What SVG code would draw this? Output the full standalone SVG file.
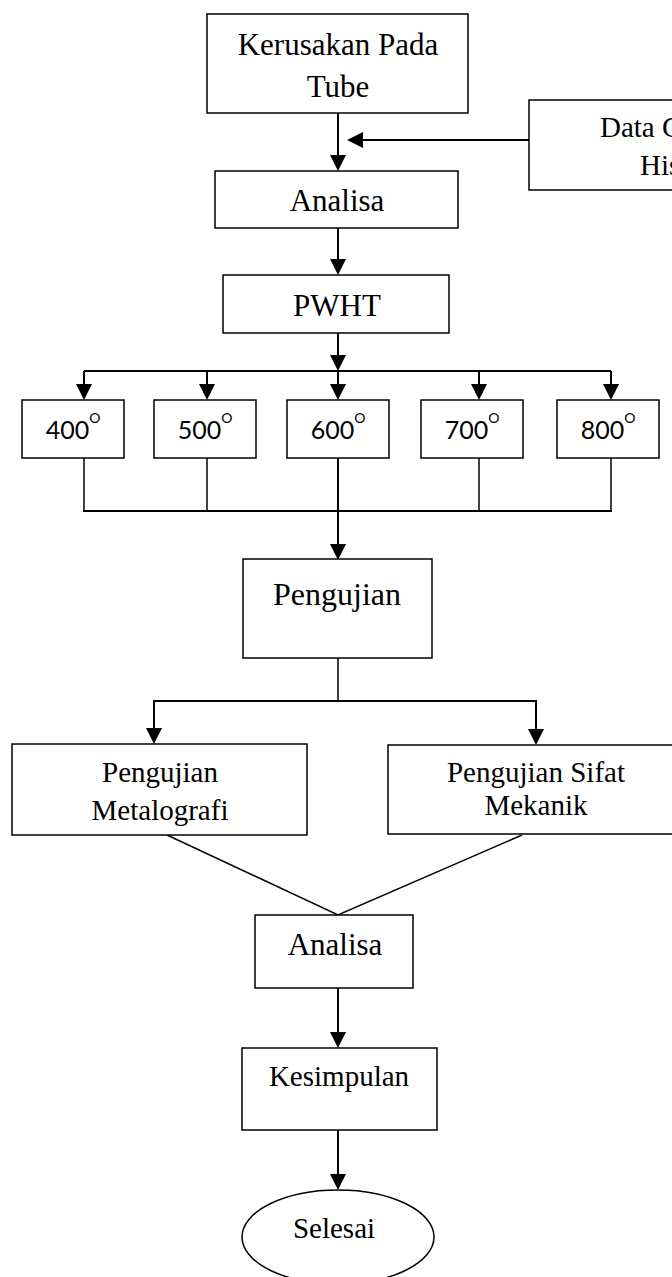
<svg xmlns="http://www.w3.org/2000/svg" width="672" height="1277" viewBox="0 0 672 1277">
<style>
.box{fill:#fff;stroke:#000;stroke-width:1.5}
.t{font-family:"Liberation Serif","Times New Roman",serif;fill:#000;text-anchor:middle}
.st{text-anchor:start}
.s{font-family:Lato,"Open Sans",sans-serif;fill:#000;text-anchor:middle;font-size:25px}
.thick{stroke:#000;stroke-width:2;fill:none}
.thin{stroke:#000;stroke-width:1.5;fill:none}
</style>
<defs>
<marker id="ah" markerUnits="userSpaceOnUse" markerWidth="18" markerHeight="18" refX="12" refY="8" orient="auto">
<path d="M0,0 L16,8 L0,16 z" fill="#000"/>
</marker>
</defs>
<rect width="672" height="1277" fill="#fff"/>
<g id="connectors">
<line class="thick" x1="338" y1="113" x2="338" y2="167" marker-end="url(#ah)"/>
<line class="thick" x1="529" y1="140" x2="351" y2="140" marker-end="url(#ah)"/>
<line class="thick" x1="338" y1="228" x2="338" y2="271" marker-end="url(#ah)"/>
<line class="thick" x1="338" y1="333" x2="338" y2="367" marker-end="url(#ah)"/>
<line class="thick" x1="84" y1="371" x2="611" y2="371"/>
<line class="thick" x1="84" y1="371" x2="84" y2="396" marker-end="url(#ah)"/>
<line class="thick" x1="207" y1="371" x2="207" y2="396" marker-end="url(#ah)"/>
<line class="thick" x1="338" y1="371" x2="338" y2="396" marker-end="url(#ah)"/>
<line class="thick" x1="479" y1="371" x2="479" y2="396" marker-end="url(#ah)"/>
<line class="thick" x1="611" y1="371" x2="611" y2="396" marker-end="url(#ah)"/>
<line class="thin" x1="84" y1="458" x2="84" y2="511"/>
<line class="thin" x1="207" y1="458" x2="207" y2="511"/>
<line class="thick" x1="338" y1="458" x2="338" y2="511"/>
<line class="thin" x1="479" y1="455" x2="479" y2="511"/>
<line class="thin" x1="611" y1="458" x2="611" y2="511"/>
<line class="thick" x1="83" y1="511" x2="612" y2="511"/>
<line class="thick" x1="338" y1="511" x2="338" y2="556" marker-end="url(#ah)"/>
<line class="thin" x1="338" y1="658" x2="338" y2="701"/>
<line class="thick" x1="153" y1="701" x2="537" y2="701"/>
<line class="thick" x1="154" y1="701" x2="154" y2="740" marker-end="url(#ah)"/>
<line class="thick" x1="536" y1="701" x2="536" y2="741" marker-end="url(#ah)"/>
<polyline class="thin" points="167,835 338,915 522,835"/>
<line class="thick" x1="338" y1="988" x2="338" y2="1044" marker-end="url(#ah)"/>
<line class="thick" x1="338" y1="1130" x2="338" y2="1186" marker-end="url(#ah)"/>
</g>
<g id="kerusakan">
<rect class="box" x="207" y="14" width="261" height="99"/>
<text class="t" x="338" y="55" font-size="31">Kerusakan Pada</text>
<text class="t" x="338" y="97" font-size="31">Tube</text>
</g>
<g id="data">
<rect class="box" x="529" y="100" width="171" height="90"/>
<text class="t st" x="600" y="137" font-size="29">Data C</text>
<text class="t st" x="640" y="175" font-size="29">His</text>
</g>
<g id="analisa1">
<rect class="box" x="215" y="171" width="243" height="57"/>
<text class="t" x="337" y="211" font-size="31">Analisa</text>
</g>
<g id="pwht">
<rect class="box" x="223" y="275" width="226" height="58"/>
<text class="t" x="337" y="316" font-size="31">PWHT</text>
</g>
<g id="t400">
<rect class="box" x="22" y="400" width="102" height="58"/>
<text class="s" x="73" y="439">400<tspan dy="-16" font-size="14">O</tspan></text>
</g>
<g id="t500">
<rect class="box" x="154" y="400" width="102" height="58"/>
<text class="s" x="205" y="439">500<tspan dy="-16" font-size="14">O</tspan></text>
</g>
<g id="t600">
<rect class="box" x="287" y="400" width="102" height="58"/>
<text class="s" x="338" y="439">600<tspan dy="-16" font-size="14">O</tspan></text>
</g>
<g id="t700">
<rect class="box" x="421" y="400" width="102" height="58"/>
<text class="s" x="472" y="439">700<tspan dy="-16" font-size="14">O</tspan></text>
</g>
<g id="t800">
<rect class="box" x="557" y="400" width="102" height="58"/>
<text class="s" x="608" y="439">800<tspan dy="-16" font-size="14">O</tspan></text>
</g>
<g id="pengujian">
<rect class="box" x="243" y="559" width="189" height="99"/>
<text class="t" x="337" y="605" font-size="32">Pengujian</text>
</g>
<g id="metalografi">
<rect class="box" x="12" y="744" width="295" height="91"/>
<text class="t" x="160" y="782" font-size="29">Pengujian</text>
<text class="t" x="160" y="820" font-size="29">Metalografi</text>
</g>
<g id="mekanik">
<rect class="box" x="388" y="745" width="296" height="89"/>
<text class="t" x="536" y="782" font-size="29">Pengujian Sifat</text>
<text class="t" x="536" y="815" font-size="29">Mekanik</text>
</g>
<g id="analisa2">
<rect class="box" x="255" y="915" width="158" height="73"/>
<text class="t" x="335" y="955" font-size="31">Analisa</text>
</g>
<g id="kesimpulan">
<rect class="box" x="242" y="1048" width="195" height="82"/>
<text class="t" x="339" y="1086" font-size="29">Kesimpulan</text>
</g>
<g id="selesai">
<ellipse class="box" cx="338" cy="1237" rx="96" ry="47"/>
<text class="t" x="334" y="1238" font-size="29">Selesai</text>
</g>
</svg>
